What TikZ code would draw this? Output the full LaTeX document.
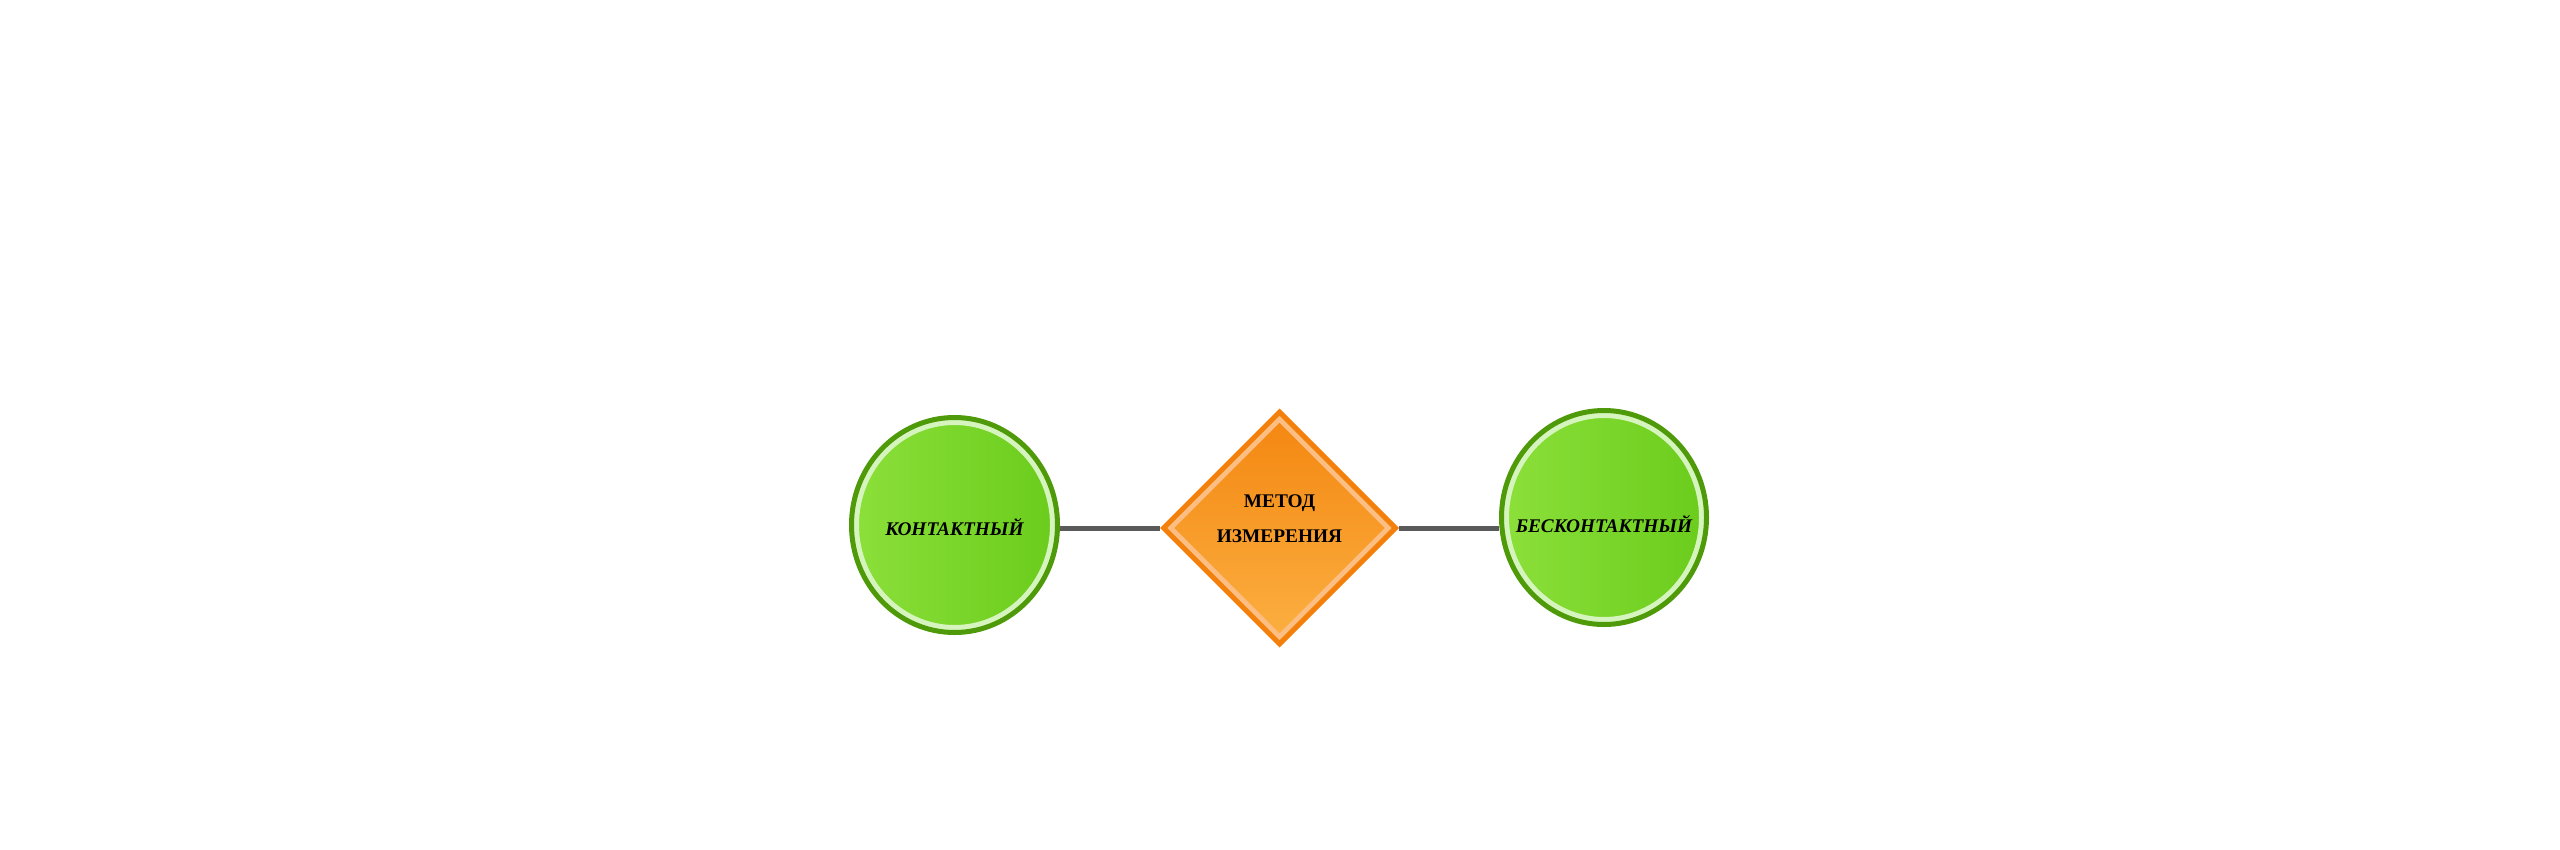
\documentclass[tikz,border=0pt]{standalone}
\usepackage{fontspec}
\setmainfont{Liberation Serif}
\usepackage{tikz}
\usetikzlibrary{shapes.geometric,positioning,calc}
\definecolor{leafdark}{RGB}{78,154,8}
\definecolor{leaflight}{RGB}{140,224,58}
\definecolor{leafmid}{RGB}{106,204,28}
\definecolor{leafpale}{RGB}{214,245,190}
\definecolor{amberdark}{RGB}{242,128,10}
\definecolor{amberpale}{RGB}{252,190,130}
\definecolor{ambertop}{RGB}{244,134,16}
\definecolor{amberbottom}{RGB}{251,176,66}
\definecolor{linkgray}{RGB}{90,90,90}

\begin{document}
\begin{tikzpicture}
    [node distance=2cm,
    bubble/.style={ellipse, inner sep=0pt, draw=leafdark, line width=0.1cm, left color=leaflight, right color=leafmid,
      path picture={\draw[leafpale, line width=0.3cm] let \p1=($(path picture bounding box.north east)-(path picture bounding box.center)$) in (path picture bounding box.center) ellipse [x radius=\x1, y radius=\y1];}},
    choice/.style={diamond, inner sep=0pt, minimum width=4.68cm, minimum height=4.68cm, draw=amberdark, line width=0.1cm, top color=ambertop, bottom color=amberbottom,
      path picture={\draw[amberpale, line width=0.3cm] (path picture bounding box.north) -- (path picture bounding box.east) -- (path picture bounding box.south) -- (path picture bounding box.west) -- cycle;}},
    tag/.style={font=\fontsize{11}{20}\selectfont\bfseries, align=center},
    slanttag/.style={font=\fontsize{11}{20}\selectfont\bfseries\itshape},
    link/.style={draw=linkgray, line width=0.1cm}]
    \useasboundingbox (0,0) rectangle (51.2,-17);

    \node (contact) at (19.09,-10.5) [bubble, minimum width=4.12cm, minimum height=4.3cm, label={[slanttag, yshift=-0.04cm]center:КОНТАКТНЫЙ}] {};
    \node (method) [choice, right=of contact, yshift=-0.06cm, label={[tag, yshift=0.18cm]center:МЕТОД\\ИЗМЕРЕНИЯ}] {};
    \node (noncontact) [bubble, right=of method, yshift=0.21cm, minimum width=4.1cm, minimum height=4.28cm, label={[slanttag, yshift=-0.13cm]center:БЕСКОНТАКТНЫЙ}] {};

    \draw[link] (method.west) -- (method.west -| contact.east);
    \draw[link] (method.east) -- (method.east -| noncontact.west);
\end{tikzpicture}
\end{document}
